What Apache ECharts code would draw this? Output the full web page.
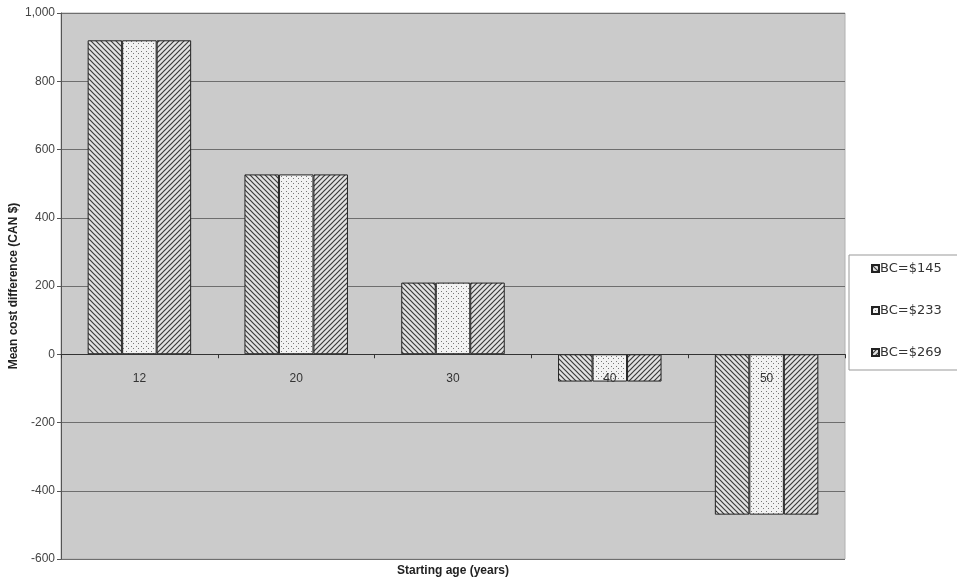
<!DOCTYPE html>
<html>
<head>
<meta charset="utf-8">
<script src="https://cdn.jsdelivr.net/npm/echarts@6/dist/echarts.min.js"></script>
<style>
html,body{margin:0;padding:0;background:#fff;}
#chart{width:957px;height:581px;}
</style>
</head>
<body>
<div id="chart"></div>
<script>
const categories = ['12', '20', '30', '40', '50'];
const seriesNames = ['BC=$145', 'BC=$233', 'BC=$269'];
const bc145 = [920, 527, 210, -80, -470];
const bc233 = [920, 527, 210, -80, -470];
const bc269 = [920, 527, 210, -80, -470];
const yTicks = { min: -600, max: 1000, interval: 200 };

function makePattern(kind) {
  const s = 5;
  const c = document.createElement('canvas');
  c.width = s; c.height = s;
  const g = c.getContext('2d');
  if (kind === 'dots') {
    g.fillStyle = '#f2f2f2';
    g.fillRect(0, 0, s, s);
    g.fillStyle = '#777';
    g.fillRect(1, 1, 1, 1);
    g.fillRect(3, 3, 1, 1);
  } else {
    g.fillStyle = '#e2e2e2';
    g.fillRect(0, 0, s, s);
    g.strokeStyle = '#3c3c3c';
    g.lineWidth = 1.2;
    g.beginPath();
    if (kind === 'back') {
      g.moveTo(-1, -1); g.lineTo(s + 1, s + 1);
      g.moveTo(-1, s - 1); g.lineTo(1, s + 1);
      g.moveTo(s - 1, -1); g.lineTo(s + 1, 1);
    } else {
      g.moveTo(-1, s + 1); g.lineTo(s + 1, -1);
      g.moveTo(-1, 1); g.lineTo(1, -1);
      g.moveTo(s - 1, s + 1); g.lineTo(s + 1, s - 1);
    }
    g.stroke();
  }
  return { image: c, repeat: 'repeat' };
}

const patterns = [makePattern('back'), makePattern('dots'), makePattern('fwd')];
const values = [bc145, bc233, bc269];

const chart = echarts.init(document.getElementById('chart'), null, { renderer: 'canvas' });
const font = 'Liberation Sans, Arial, sans-serif';

const option = {
  animation: false,
  backgroundColor: '#ffffff',
  textStyle: { fontFamily: font },
  grid: {
    left: 61, right: 112, top: 13, bottom: 22,
    outerBoundsMode: 'none',
    containLabel: false,
    show: true, backgroundColor: '#cbcbcb', borderColor: '#b0b0b0', borderWidth: 1
  },
  legend: {
    orient: 'vertical',
    left: 849, top: 255,
    padding: [7, 60, 11, 22],
    itemGap: 29,
    itemWidth: 7, itemHeight: 7,
    icon: 'rect',
    backgroundColor: '#ffffff',
    borderColor: '#999',
    borderWidth: 1,
    textStyle: { fontSize: 13, color: '#333', fontFamily: 'DejaVu Sans, sans-serif', padding: [0, 0, 0, -4] },
    data: seriesNames
  },
  xAxis: [{
    type: 'category',
    data: categories,
    z: 10,
    axisLine: { onZero: true, lineStyle: { color: '#333', width: 1 } },
    axisTick: { show: true, length: 4, alignWithLabel: false, lineStyle: { color: '#333' } },
    axisLabel: { show: false },
    splitLine: { show: false }
  }, {
    type: 'category',
    data: categories,
    position: 'bottom',
    offset: 0,
    z: 10,
    axisLine: { show: false, onZero: false },
    axisTick: { show: false },
    axisLabel: { fontSize: 12, color: '#333', margin: 18 },
    splitLine: { show: false }
  }],
  yAxis: {
    type: 'value',
    min: yTicks.min, max: yTicks.max, interval: yTicks.interval,
    name: 'Mean cost difference (CAN $)',
    nameLocation: 'middle',
    nameGap: 41,
    nameMoveOverlap: false,
    nameTextStyle: { fontSize: 12, fontWeight: 'bold', color: '#222' },
    axisLine: { show: true, lineStyle: { color: '#555' } },
    axisTick: { show: true, length: 4, lineStyle: { color: '#555' } },
    axisLabel: {
      fontSize: 12, color: '#444', margin: 6,
      formatter: v => v.toLocaleString('en-US')
    },
    splitLine: { show: true, lineStyle: { color: '#6e6e6e', width: 1 } }
  },
  graphic: [{
    type: 'text',
    style: {
      text: 'Starting age (years)', x: 453, y: 571,
      fontSize: 12, fontWeight: 'bold', fill: '#222', fontFamily: font,
      align: 'center', verticalAlign: 'middle'
    }
  }],
  series: seriesNames.map((name, i) => ({
    name: name,
    type: 'bar',
    xAxisIndex: 0,
    data: values[i],
    barGap: '0%',
    barCategoryGap: '34%',
    itemStyle: { color: patterns[i], borderColor: '#222', borderWidth: 1 }
  }))
};
chart.setOption(option);

// Move the category labels up to the zero line, using the library's own scale
const yZero = chart.convertToPixel({ yAxisIndex: 0 }, 0);
const yBottom = chart.convertToPixel({ yAxisIndex: 0 }, yTicks.min);
chart.setOption({ xAxis: [{}, { offset: yZero - yBottom }] });
</script>
</body>
</html>
